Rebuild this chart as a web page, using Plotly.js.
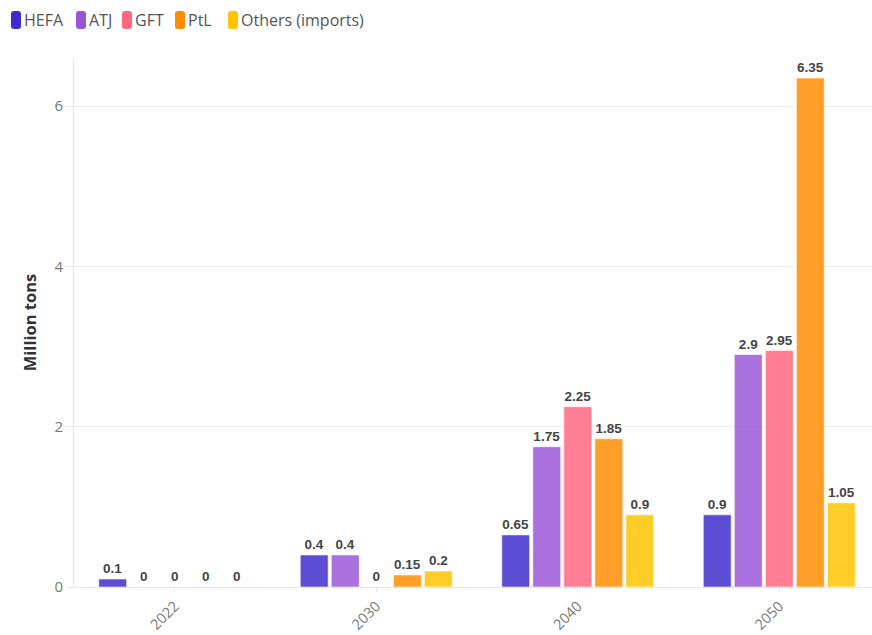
<!DOCTYPE html>
<html><head><meta charset="utf-8">
<script src="https://cdn.plot.ly/plotly-3.0.1.min.js"></script>
<style>html,body{margin:0;padding:0;overflow:hidden;background:#fff}</style>
</head><body><div id="chart" style="width:872px;height:635px"></div>
<script>
const years = ['2022', '2030', '2040', '2050'];
const seriesNames = ['HEFA', 'ATJ', 'GFT', 'PtL', 'Others (imports)'];
const hefa = [0.1, 0.4, 0.65, 0.9];
const atj = [0, 0.4, 1.75, 2.9];
const gft = [0, 0, 2.25, 2.95];
const ptl = [0, 0.15, 1.85, 6.35];
const others = [0, 0.2, 0.9, 1.05];
const colors = ['#3d2ccc', '#9955d8', '#ff6680', '#ff8c00', '#ffc400'];

const values = [hefa, atj, gft, ptl, others];
const traces = values.map((v, i) => ({
  type: 'bar', name: seriesNames[i], x: years, y: v,
  text: v.map(String), textposition: 'outside', cliponaxis: false,
  textfont: {family: 'Liberation Sans, Arial, sans-serif', size: 13.5, color: '#444', weight: 'bold'},
  marker: {color: colors[i], opacity: 0.84, line: {color: 'rgba(255,255,255,0.6)', width: 1}},
  hoverinfo: 'x+y+name'
}));

// custom legend (pixel positions converted to paper coords)
const L = 74, W = 798, T = 58, H = 529;
const px = x => (x - L) / W, py = y => (T + H - y) / H;
const legendX = [11, 76, 122, 175, 228];
const shapes = [], annotations = [];
seriesNames.forEach((n, i) => {
  const x0 = legendX[i], x1 = x0 + 10, y0 = 11, y1 = 29, r = 3;
  shapes.push({type: 'path', xref: 'paper', yref: 'paper', fillcolor: colors[i], line: {width: 0},
    path: `M ${px(x0 + r)} ${py(y0)} L ${px(x1 - r)} ${py(y0)} Q ${px(x1)} ${py(y0)} ${px(x1)} ${py(y0 + r)} ` +
          `L ${px(x1)} ${py(y1 - r)} Q ${px(x1)} ${py(y1)} ${px(x1 - r)} ${py(y1)} L ${px(x0 + r)} ${py(y1)} ` +
          `Q ${px(x0)} ${py(y1)} ${px(x0)} ${py(y1 - r)} L ${px(x0)} ${py(y0 + r)} Q ${px(x0)} ${py(y0)} ${px(x0 + r)} ${py(y0)} Z`});
  annotations.push({xref: 'paper', yref: 'paper', x: px(x1 + 1), y: py(20), xanchor: 'left', yanchor: 'middle',
    showarrow: false, text: n, font: {size: 16, color: '#555'}});
});

Plotly.newPlot('chart', traces, {
  width: 872, height: 635,
  margin: {l: L, r: 0, t: T, b: 48, autoexpand: false},
  paper_bgcolor: '#fff', plot_bgcolor: '#fff',
  font: {family: 'Open Sans, sans-serif', color: '#555'},
  barmode: 'group', bargap: 0.23, bargroupgap: 0.1,
  showlegend: false, shapes, annotations,
  xaxis: {type: 'category', range: [-0.5, 3.46], tickangle: -45,
    tickfont: {size: 14.5, color: '#777'}, showline: true, linecolor: '#e6e6e6',
    ticks: 'outside', ticklen: 4, tickcolor: '#e6e6e6', showgrid: false},
  yaxis: {range: [0, 6.6], tickvals: [0, 2, 4, 6], ticktext: ['0', '2', '4', '6'],
    tickfont: {size: 15, color: '#777'}, showline: true, linecolor: '#e6e6e6',
    gridcolor: '#eeeeee', zeroline: false, ticks: 'outside', ticklen: 7, tickcolor: '#e6e6e6',
    title: {text: 'Million tons', font: {size: 16.5, color: '#333', weight: 'bold'}, standoff: 13}}
}, {displayModeBar: false});
</script></body></html>
